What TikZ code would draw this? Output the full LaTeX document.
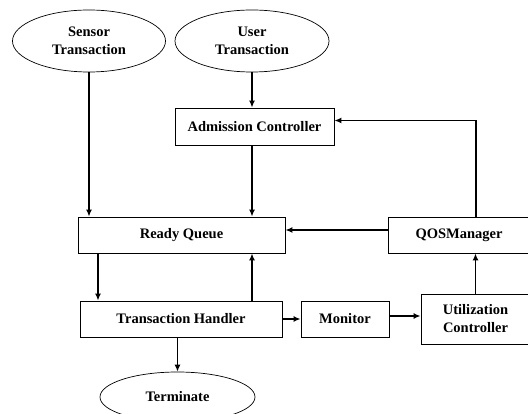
\documentclass[tikz,border=0pt]{standalone}
\usepackage{fontspec}
\setmainfont{Liberation Serif}
\usepackage{tikz}
\usetikzlibrary{shapes.geometric,arrows.meta}

\tikzset{
    blockbox/.style={draw, line width=0.8pt, inner sep=0pt, font=\fontsize{14.5}{18}\selectfont\bfseries, align=center},
    endpoint/.style={ellipse, draw, line width=0.7pt, inner sep=0pt, font=\fontsize{14.5}{18}\selectfont\bfseries, align=center},
    flow/.style={line width=1.8pt, -{Latex[length=7pt,width=6pt]}}
}

\begin{document}
\begin{tikzpicture}[x=1pt, y=-1pt]
    \useasboundingbox (0,0) rectangle (528,414);
    \fill[white] (0,0) rectangle (528,414);
    \clip (0,0) rectangle (528,414);

    \node[endpoint, minimum width=153, minimum height=62] (sensor) at (89,41) {Sensor\\Transaction};
    \node[endpoint, minimum width=154, minimum height=62] (user) at (252,41) {User\\Transaction};
    \node[blockbox, minimum width=159, minimum height=37] (admit) at (254.5,126.5) {Admission Controller};
    \node[blockbox, minimum width=207, minimum height=36] (ready) at (181.5,235) {Ready Queue};
    \node[blockbox, minimum width=142, minimum height=36] (qos) at (459,235) {QOSManager};
    \node[blockbox, minimum width=202, minimum height=36] (handler) at (181,319) {Transaction Handler};
    \node[blockbox, minimum width=88, minimum height=36] (monitor) at (345,319) {Monitor};
    \node[blockbox, minimum width=109, minimum height=50] (util) at (475.5,319) {Utilization\\Controller};
    \node[endpoint, minimum width=155, minimum height=50] (term) at (177.5,397) {Terminate};

    \draw[flow] (sensor.south) -- (sensor.south |- ready.north);
    \draw[flow] (user.south) -- (user.south |- admit.north);
    \draw[flow] (user.south |- admit.south) -- (user.south |- ready.north);
    \draw[flow] ([xshift=17]qos.north) |- ([yshift=6]admit.east);
    \draw[flow] ([yshift=5]qos.west) -- ([yshift=5]ready.east);
    \draw[flow] ([xshift=-83.5]ready.south) -- ([xshift=-83.5]ready.south |- handler.north);
    \draw[flow] (user.south |- handler.north) -- (user.south |- ready.south);
    \draw[flow] (handler.east) -- (monitor.west);
    \draw[flow] ([yshift=3]monitor.east) -- ([yshift=3]monitor.east -| util.west);
    \draw[flow] (util.north) -- (util.north |- qos.south);
    \draw[flow] (term.north |- handler.south) -- (term.north);
\end{tikzpicture}
\end{document}
